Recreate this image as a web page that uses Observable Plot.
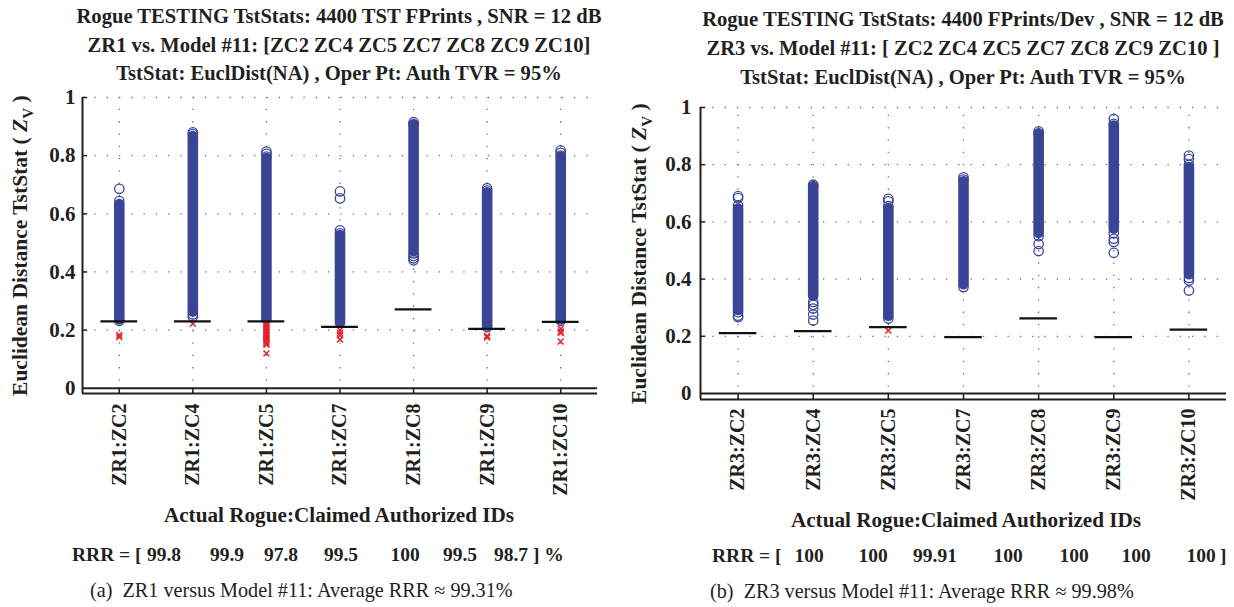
<!DOCTYPE html>
<html>
<head>
<meta charset="utf-8">
<script src="https://cdn.jsdelivr.net/npm/d3@7"></script>
<script src="https://cdn.jsdelivr.net/npm/@observablehq/plot@0.6"></script>
<style>
  body { margin: 0; background: #fff; }
  #root { position: relative; width: 1234px; height: 607px; overflow: hidden;
          font-family: "Liberation Serif", serif; color: #231f20; }
  #root svg text { font-family: "Liberation Serif", serif; font-weight: bold; }
  .t { position: absolute; white-space: pre; line-height: 1; }
  .c { text-align: center; }
  .m { transform: translateX(-50%); }
  .b { font-weight: bold; }
  .panel { position: absolute; top: 0; }
  .ylab { position: absolute; white-space: nowrap; text-align: center; font-weight: bold;
          transform: rotate(-90deg); line-height: 1; }
</style>
</head>
<body>
<div id="root"></div>
<script>
// ---- Rogue ZR1 vs. Model #11 ----
const leftIds = ["ZR1:ZC2", "ZR1:ZC4", "ZR1:ZC5", "ZR1:ZC7", "ZR1:ZC8", "ZR1:ZC9", "ZR1:ZC10"];
const leftThreshold = [0.230, 0.230, 0.230, 0.211, 0.271, 0.204, 0.228];
const leftBandLow  = [0.236, 0.262, 0.236, 0.224, 0.470, 0.214, 0.236];
const leftBandHigh = [0.632, 0.866, 0.790, 0.525, 0.905, 0.672, 0.795];
const leftRings = [
  [0.232, 0.644, 0.686],
  [0.247, 0.254, 0.874, 0.880],
  [0.797, 0.806, 0.814],
  [0.533, 0.543, 0.653, 0.677],
  [0.440, 0.447, 0.455, 0.464, 0.908, 0.915],
  [0.210, 0.680, 0.688],
  [0.232, 0.800, 0.810, 0.818]
];
const leftRejects = [
  [0.183, 0.176],
  [0.222],
  [0.224, 0.218, 0.212, 0.206, 0.200, 0.195, 0.190, 0.185, 0.180, 0.175, 0.170, 0.165, 0.160, 0.155, 0.150, 0.120],
  [0.200, 0.190, 0.182, 0.168],
  [],
  [0.180, 0.175],
  [0.205, 0.195, 0.190, 0.161]
];
const leftRRR = ["99.8", "99.9", "97.8", "99.5", "100", "99.5", "98.7"];

// ---- Rogue ZR3 vs. Model #11 ----
const rightIds = ["ZR3:ZC2", "ZR3:ZC4", "ZR3:ZC5", "ZR3:ZC7", "ZR3:ZC8", "ZR3:ZC9", "ZR3:ZC10"];
const rightThreshold = [0.211, 0.218, 0.232, 0.197, 0.263, 0.197, 0.223];
const rightBandLow  = [0.290, 0.340, 0.270, 0.380, 0.560, 0.575, 0.415];
const rightBandHigh = [0.645, 0.720, 0.645, 0.740, 0.905, 0.935, 0.790];
const rightRings = [
  [0.267, 0.272, 0.284, 0.657, 0.683, 0.690],
  [0.255, 0.276, 0.297, 0.310, 0.320, 0.725, 0.730],
  [0.262, 0.655, 0.672, 0.681],
  [0.372, 0.748, 0.756],
  [0.498, 0.523, 0.550, 0.910, 0.917],
  [0.492, 0.530, 0.541, 0.560, 0.943, 0.960],
  [0.360, 0.395, 0.404, 0.800, 0.820, 0.832]
];
const rightRejects = [[], [], [0.220], [], [], [], []];
const rightRRR = ["100", "100", "99.91", "100", "100", "100", "100"];

const yTicks = [0, 0.2, 0.4, 0.6, 0.8, 1];
const gridY = [0.2, 0.4, 0.6, 0.8, 1];

const blue = "#3a4597";
const red = "#e3262c";
const ink = "#231f20";
const grid = "#6d6e71";

function panel({ids, threshold, bandLow, bandHigh, rings, rejects,
                width, height, marginLeft, marginRight, marginTop, marginBottom, yMin, tickPadX, tickPadY}) {
  const ks = ids.map((_, i) => i + 1);
  const bands = ids.map((_, i) => ({k: i + 1, lo: bandLow[i], hi: bandHigh[i]}));
  const ringPts = rings.flatMap((vals, i) => vals.map(v => ({k: i + 1, v})));
  const rejectPts = rejects.flatMap((vals, i) => vals.map(v => ({k: i + 1, v})));
  const thr = threshold.map((t, i) => ({k: i + 1, t}));
  const dotted = {stroke: grid, strokeWidth: 1.3, strokeDasharray: "1.3,11"};
  return Plot.plot({
    width, height, marginLeft, marginRight, marginTop, marginBottom,
    style: {fontFamily: "Liberation Serif", fontSize: "20px", fontWeight: "bold",
            color: ink, background: "transparent", overflow: "visible"},
    x: {type: "linear", domain: [0.5, 7.5]},
    y: {domain: [yMin, 1]},
    marks: [
      Plot.ruleY(gridY, {...dotted, x1: 0.5, x2: 7.5}),
      Plot.ruleX(ks, {...dotted, y1: yMin, y2: 1}),
      Plot.ruleX(bands, {x: "k", y1: "lo", y2: "hi", stroke: blue, strokeWidth: 10.6, strokeLinecap: "round"}),
      Plot.dot(ringPts, {x: "k", y: "v", r: 4.7, stroke: blue, strokeWidth: 1.3, fill: "none"}),
      Plot.dot(rejectPts, {x: "k", y: "v", symbol: "times", r: 2.8, stroke: red, strokeWidth: 1.5}),
      Plot.ruleY(thr, {y: "t", x1: d => d.k - 0.25, x2: d => d.k + 0.25, stroke: "#111", strokeWidth: 2.2}),
      Plot.ruleY([0], {x1: 0.5, x2: 7.5, stroke: ink, strokeWidth: 2}),
      Plot.ruleY([yMin], {x1: 0.5, x2: 7.5, stroke: ink, strokeWidth: 2}),
      Plot.ruleX([0.5], {y1: yMin, y2: 1, stroke: ink, strokeWidth: 2}),
      Plot.ruleY(yTicks.slice(1), {x1: 0.5, x2: 0.57, stroke: ink, strokeWidth: 1.5}),
      Plot.ruleX(ks, {y1: yMin, y2: 0, stroke: ink, strokeWidth: 1.5}),
      Plot.axisY(yTicks, {tickSize: 0, tickPadding: tickPadY, tickFormat: d => String(d), label: null, fontSize: 21}),
      Plot.axisX(ks, {tickSize: 0, tickPadding: tickPadX, tickRotate: -90, tickFormat: k => ids[k - 1], label: null, fontSize: 20})
    ]
  });
}

const root = document.getElementById("root");

function addText(html, cls, css) {
  const el = document.createElement("div");
  el.className = cls;
  el.innerHTML = html;
  Object.assign(el.style, css);
  root.appendChild(el);
  return el;
}
// Place a line of text so that its baseline sits at y (Liberation Serif, line-height 1).
function topFor(baseline, size) { return (baseline - 0.8375 * size) + "px"; }

// Left panel
const leftWrap = document.createElement("div");
leftWrap.className = "panel";
leftWrap.style.left = "0px";
leftWrap.appendChild(panel({
  ids: leftIds, threshold: leftThreshold, bandLow: leftBandLow, bandHigh: leftBandHigh,
  rings: leftRings, rejects: leftRejects,
  width: 617, height: 503, marginLeft: 82, marginRight: 20, marginTop: 97, marginBottom: 110,
  yMin: -0.018, tickPadX: 10, tickPadY: 7
}));
root.appendChild(leftWrap);

// Right panel
const rightWrap = document.createElement("div");
rightWrap.className = "panel";
rightWrap.style.left = "617px";
rightWrap.appendChild(panel({
  ids: rightIds, threshold: rightThreshold, bandLow: rightBandLow, bandHigh: rightBandHigh,
  rings: rightRings, rejects: rightRejects,
  width: 617, height: 509, marginLeft: 83, marginRight: 8, marginTop: 107, marginBottom: 110,
  yMin: -0.021, tickPadX: 9, tickPadY: 9
}));
root.appendChild(rightWrap);

// Titles
const leftTitle = [
  "Rogue TESTING TstStats: 4400 TST FPrints , SNR = 12 dB",
  "ZR1 vs. Model #11: [ZC2 ZC4 ZC5 ZC7 ZC8 ZC9 ZC10]",
  "TstStat: EuclDist(NA) , Oper Pt: Auth TVR = 95%"
];
const rightTitle = [
  "Rogue TESTING TstStats: 4400 FPrints/Dev , SNR = 12 dB",
  "ZR3 vs. Model #11: [ ZC2 ZC4 ZC5 ZC7 ZC8 ZC9 ZC10 ]",
  "TstStat: EuclDist(NA) , Oper Pt: Auth TVR = 95%"
];
const titleSize = 20.6;
[23, 52, 80].forEach((base, i) => addText(leftTitle[i], "t c b",
  {left: (339 - 320) + "px", width: "640px", top: topFor(base, titleSize), fontSize: titleSize + "px"}));
[26, 55, 84].forEach((base, i) => addText(rightTitle[i], "t c b",
  {left: (963 - 320) + "px", width: "640px", top: topFor(base, titleSize), fontSize: titleSize + "px"}));

// Y-axis labels
const ylabSize = 21.5;
const ylabHtml = "Euclidean Distance TstStat ( <i>Z</i><sub style=\"font-size:15px\">V</sub> )";
addText(ylabHtml, "ylab", {left: (22.5 - 170) + "px", top: (243.5 - 11) + "px", width: "340px", fontSize: ylabSize + "px"});
addText(ylabHtml, "ylab", {left: (642 - 170) + "px", top: (251.5 - 11) + "px", width: "340px", fontSize: ylabSize + "px"});

// X-axis labels
const xlabSize = 21.2;
addText("Actual Rogue:Claimed Authorized IDs", "t c b", {left: (339 - 250) + "px", width: "500px", top: topFor(523, xlabSize), fontSize: xlabSize + "px"});
addText("Actual Rogue:Claimed Authorized IDs", "t c b", {left: (966 - 250) + "px", width: "500px", top: topFor(528, xlabSize), fontSize: xlabSize + "px"});

// RRR rows: opening "RRR = [", per-ID values, closing bracket
const rrrSize = 19.5;
function rrrRow(values, startX, centers, closeX, closeText, baseline) {
  const top = topFor(baseline, rrrSize);
  addText("RRR = [", "t b", {left: startX + "px", top, fontSize: rrrSize + "px"});
  values.forEach((v, i) => addText(v, "t b m", {left: centers[i] + "px", top, fontSize: rrrSize + "px"}));
  addText(closeText, "t b", {left: closeX + "px", top, fontSize: rrrSize + "px"});
}
rrrRow(leftRRR, 72, [164, 227, 281, 341, 405, 460, 511], 533, "] %", 561);
rrrRow(rightRRR, 712, [809, 873, 935, 1008, 1074, 1136, 1201], 1220, "]", 562);

// Captions
const capSize = 20.2;
addText("(a)  ZR1 versus Model #11: Average RRR ≈ 99.31%", "t", {left: "90px", top: topFor(597, capSize), fontSize: capSize + "px"});
addText("(b)  ZR3 versus Model #11: Average RRR ≈ 99.98%", "t", {left: "710px", top: topFor(598, capSize), fontSize: capSize + "px"});
</script>
</body>
</html>
